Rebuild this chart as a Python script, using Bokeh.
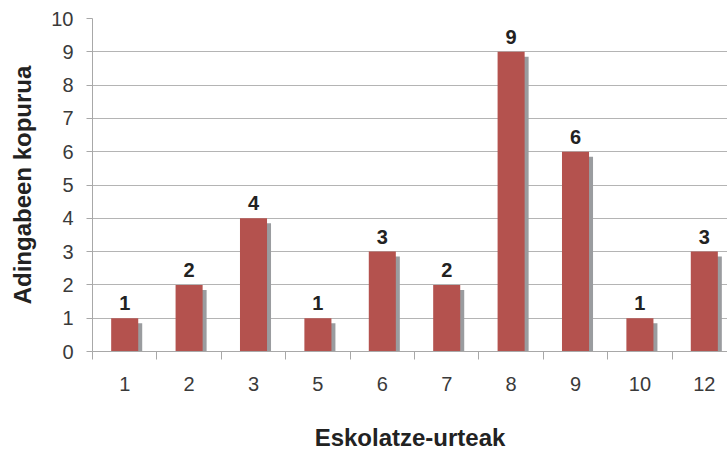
from bokeh.plotting import figure
from bokeh.models import ColumnDataSource, FixedTicker, Range1d
from bokeh.embed import file_html
from bokeh.resources import INLINE
from bokeh.core.properties import value

categories = ["1", "2", "3", "5", "6", "7", "8", "9", "10", "12"]
counts = [1, 2, 4, 1, 3, 2, 9, 6, 1, 3]
y_ticks = [0, 1, 2, 3, 4, 5, 6, 7, 8, 9, 10]
x_title = "Eskolatze-urteak"
y_title = "Adingabeen kopurua"

xs = list(range(len(categories)))
bar_w = 0.42
sh_dx = 0.062
sh_dy = 0.15

src = ColumnDataSource(dict(
    x=xs,
    xs=[x + sh_dx for x in xs],
    top=counts,
    stop=[c - sh_dy for c in counts],
    lab=[str(c) for c in counts],
))

FONT = "Liberation Sans"

p = figure(width=727, height=453, output_backend="svg", toolbar_location=None,
           x_range=Range1d(-0.5, 9.36), y_range=Range1d(0, 10),
           min_border_left=92, min_border_right=0, min_border_top=18,
           min_border_bottom=101)
p.outline_line_color = None
p.background_fill_color = "white"
p.border_fill_color = "white"

p.vbar(x="xs", top="stop", bottom=0, width=bar_w, source=src,
       fill_color="#9a9c9f", line_color=None)
p.vbar(x="x", top="top", bottom=0, width=bar_w, source=src,
       fill_color="#b4524e", line_color=None)
p.text(x="x", y="top", text="lab", source=src, text_align="center",
       text_baseline="bottom", y_offset=-8, text_font=value(FONT),
       text_font_style="bold", text_font_size="20px", text_color="#222222")

# x axis
p.xaxis.ticker = FixedTicker(ticks=xs, minor_ticks=[x - 0.5 for x in xs] + [xs[-1] + 0.5])
p.xaxis.major_label_overrides = {x: c for x, c in zip(xs, categories)}
p.xaxis.major_tick_out = 0
p.xaxis.major_tick_in = 0
p.xaxis.minor_tick_out = 8
p.xaxis.minor_tick_in = 0
p.xaxis.minor_tick_line_color = "#a8a8a8"
p.xaxis.axis_line_color = "#a8a8a8"
p.xaxis.major_label_standoff = 17
p.xaxis.major_label_text_font = FONT
p.xaxis.major_label_text_font_size = "20px"
p.xaxis.major_label_text_color = "#3a3a3a"
p.xaxis.axis_label = x_title
p.xaxis.axis_label_text_font = FONT
p.xaxis.axis_label_text_font_style = "bold"
p.xaxis.axis_label_text_font_size = "24px"
p.xaxis.axis_label_text_color = "#222222"
p.xaxis.axis_label_standoff = 30

# y axis
p.yaxis.ticker = FixedTicker(ticks=y_ticks)
p.yaxis.major_tick_out = 6
p.yaxis.major_tick_in = 0
p.yaxis.minor_tick_out = 0
p.yaxis.minor_tick_in = 0
p.yaxis.major_tick_line_color = "#a8a8a8"
p.yaxis.axis_line_color = "#a8a8a8"
p.yaxis.major_label_standoff = 13
p.yaxis.major_label_text_font = FONT
p.yaxis.major_label_text_font_size = "20px"
p.yaxis.major_label_text_color = "#3a3a3a"
p.yaxis.axis_label = y_title
p.yaxis.axis_label_text_font = FONT
p.yaxis.axis_label_text_font_style = "bold"
p.yaxis.axis_label_text_font_size = "24px"
p.yaxis.axis_label_text_color = "#222222"
p.yaxis.axis_label_standoff = 12

p.xgrid.grid_line_color = None
p.ygrid.ticker = FixedTicker(ticks=y_ticks)
p.ygrid.grid_line_color = "#b4b4b4"
p.ygrid.grid_line_width = 1

open("out.html", "w").write(file_html(p, INLINE))
